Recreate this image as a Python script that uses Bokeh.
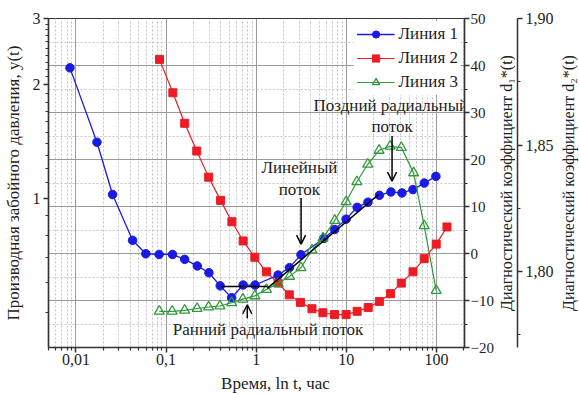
import math
from bokeh.plotting import figure
from bokeh.layouts import row, column
from bokeh.models import (Range1d, LinearScale, LinearAxis, FixedTicker, Grid, Legend,
                          LegendItem, Label, Arrow, OpenHead)
from bokeh.embed import file_html
from bokeh.resources import INLINE

FONT = "Liberation Serif"

# ---------------- data ----------------
# Line 1: derivative of bottom-hole pressure y(t) (left log axis)
line1_t = [0.00858, 0.0171, 0.0255, 0.0425, 0.0596, 0.0837, 0.118, 0.161, 0.222, 0.299,
           0.399, 0.534, 0.716, 0.972, 1.75, 2.34, 3.14, 5.62, 7.44, 9.95,
           13.2, 17.4, 23.3, 31.3, 41.5, 54.9, 73.3, 98.7]
line1_y = [2.22, 1.41, 1.025, 0.775, 0.714, 0.711, 0.711, 0.690, 0.663, 0.636,
           0.587, 0.546, 0.590, 0.590, 0.627, 0.656, 0.710, 0.784, 0.828, 0.882,
           0.948, 0.978, 1.020, 1.041, 1.035, 1.056, 1.099, 1.145]

# Line 2: diagnostic coefficient d1*(t) (first right axis)
line2_t = [0.0846, 0.119, 0.161, 0.219, 0.297, 0.403, 0.538, 0.717, 0.966, 1.30,
           1.75, 2.33, 3.10, 4.16, 5.50, 7.40, 9.95, 13.2, 17.5, 23.3,
           30.9, 40.8, 55.0, 73.2, 99.5, 131.0]
line2_y = [41.3, 34.2, 27.7, 21.8, 16.25, 11.3, 6.76, 2.67, -0.8, -3.9,
           -6.3, -8.8, -10.4, -11.75, -12.6, -13.0, -13.0, -12.3, -11.5, -10.2,
           -8.55, -6.3, -3.9, -1.1, 2.0, 5.65]

# Line 3: diagnostic coefficient d2*(t) (second right axis)
line3_t = [0.0841, 0.117, 0.161, 0.221, 0.297, 0.396, 0.534, 0.712, 0.967, 1.30,
           1.75, 2.34, 3.14, 4.16, 5.51, 7.44, 9.95, 13.1, 17.3, 23.1,
           30.6, 40.8, 55.8, 73.2, 99.5]
line3_y = [1.7843, 1.7843, 1.7847, 1.7854, 1.7860, 1.7864, 1.7877, 1.7891, 1.7904, 1.7929,
           1.7953, 1.7981, 1.8015, 1.8085, 1.8132, 1.8202, 1.8276, 1.8355, 1.8424, 1.8479,
           1.8495, 1.8490, 1.8390, 1.8181, 1.7925]

# straight-line fits (flow regimes) on the y(t) axis
early_fit_t = [0.403, 1.337]
early_fit_y = [0.585, 0.585]
linear_fit_t = [1.327, 22.85]
linear_fit_y = [0.578, 1.025]

# ticks
x_ticks = [0.01, 0.1, 1, 10, 100]
x_tick_labels = ["0,01", "0,1", "1", "10", "100"]
y_ticks = [1, 2, 3]
y_tick_labels = ["1", "2", "3"]
d1_ticks = [-20, -10, 0, 10, 20, 30, 40, 50]
d1_minor = [-15, -5, 5, 15, 25, 35, 45]
d2_ticks = [1.80, 1.85, 1.90]
d2_tick_labels = ["1,80", "1,85", "1,90"]
d2_minor = [1.775, 1.825, 1.875]

# annotations (data coordinates: x on time axis, y on d1 axis)
notes = [
    ("Линейный", 3.02, 18.2),
    ("поток", 3.02, 13.7),
    ("Поздний радиальный", 31.2, 31.4),
    ("поток", 32.2, 27.1),
    ("Ранний радиальный поток", 1.355, -16.2),
]
arrows = [
    (3.15, 11.8, 3.15, 2.0),
    (32.2, 25.0, 32.2, 15.4),
    (0.797, -13.75, 0.797, -10.9),
]
title_x = "Время, ln t, час"
title_y = "Производная забойного давления, y(t)"
title_d1 = "Диагностический коэффициент d₁*(t)"
title_d2 = "Диагностический коэффициент d₂*(t)"

H = 372          # height of the row with the plot frame
TOP = 18
BOTTOM = 25
W_TOTAL = 579
XT_H = 21        # strip holding the time-axis title
XT_POS = 275     # horizontal centre of the time-axis title within the strip
AX_COLOR = "#333333"
TXT = "#222222"

def style_axis(ax):
    ax.axis_line_color = AX_COLOR
    ax.axis_line_width = 1.5
    ax.major_tick_line_color = AX_COLOR
    ax.major_tick_line_width = 1.5
    ax.minor_tick_line_color = AX_COLOR
    ax.minor_tick_line_width = 1.2
    ax.major_tick_out = 5
    ax.major_tick_in = 0
    ax.minor_tick_out = 3
    ax.minor_tick_in = 0
    ax.major_label_text_font = FONT
    ax.major_label_text_font_size = "16px"
    ax.major_label_text_color = TXT
    ax.major_label_standoff = 3
    ax.axis_label_text_font = FONT
    ax.axis_label_text_font_size = "17px"
    ax.axis_label_text_font_style = "normal"
    ax.axis_label_text_color = TXT
    ax.axis_label_standoff = 2

# ---------------- main figure ----------------
p = figure(width=496, height=H, x_axis_type="log", y_axis_type="log",
           x_range=Range1d(0.00496, 205), y_range=Range1d(0.403, 3.0),
           output_backend="svg", toolbar_location=None,
           min_border_left=48, min_border_top=TOP, min_border_right=31, min_border_bottom=BOTTOM)
p.extra_y_ranges = {"d1": Range1d(-20, 50), "d2": Range1d(1.77, 1.90)}
p.extra_y_scales = {"d1": LinearScale(), "d2": LinearScale()}
p.background_fill_color = "white"
p.border_fill_color = "white"
p.outline_line_color = AX_COLOR
p.outline_line_width = 1.2

xa = p.xaxis[0]
x_minor = [k * 10.0 ** e for e in range(-3, 3) for k in range(2, 10)]
xa.ticker = FixedTicker(ticks=x_ticks, minor_ticks=x_minor)
xa.major_label_overrides = dict(zip(x_ticks, x_tick_labels))
style_axis(xa)
xa.major_label_standoff = 1

ya = p.yaxis[0]
y_minor = [0.4, 0.5, 0.6, 0.7, 0.8, 0.9, 1.1, 1.2, 1.3, 1.4, 1.5, 1.6, 1.7, 1.8, 1.9,
           2.1, 2.2, 2.3, 2.4, 2.5, 2.6, 2.7, 2.8, 2.9]
ya.ticker = FixedTicker(ticks=y_ticks, minor_ticks=y_minor)
ya.major_label_overrides = dict(zip(y_ticks, y_tick_labels))
ya.axis_label = title_y
style_axis(ya)
ya.axis_label_standoff = 7

ax1 = LinearAxis(y_range_name="d1", ticker=FixedTicker(ticks=d1_ticks, minor_ticks=d1_minor))
style_axis(ax1)
ax1.major_label_text_font_size = "15px"
ax1.major_label_standoff = 1
p.add_layout(ax1, "right")

# grids
p.xgrid.grid_line_color = "#9a9a9a"
p.xgrid.grid_line_width = 1
p.xgrid.minor_grid_line_color = "#c4c4c4"
p.xgrid.minor_grid_line_dash = "2 2"
p.ygrid.visible = False
hgrid = Grid(dimension=1, y_range_name="d1",
             ticker=FixedTicker(ticks=d1_ticks, minor_ticks=d1_minor),
             grid_line_color="#9a9a9a", grid_line_width=1,
             minor_grid_line_color="#c4c4c4", minor_grid_line_dash="2 2")
p.add_layout(hgrid)

BLUE = "#1a1ae6"
RED = "#ec1c24"
GREEN = "#2e9a3a"

r2l = p.line(line2_t, line2_y, y_range_name="d1", line_color=RED, line_width=1.2)
r2m = p.scatter(line2_t, line2_y, y_range_name="d1", marker="square", size=8,
                fill_color=RED, line_color=RED)
r1l = p.line(line1_t, line1_y, line_color=BLUE, line_width=1.3)
r1m = p.scatter(line1_t, line1_y, marker="circle", size=8.5, fill_color=BLUE, line_color=BLUE)
r3l = p.line(line3_t, line3_y, y_range_name="d2", line_color=GREEN, line_width=1.2)
r3m = p.scatter(line3_t, line3_y, y_range_name="d2", marker="triangle", size=10,
                fill_color="white", fill_alpha=0.0, line_color=GREEN, line_width=1.3)

p.line(early_fit_t, early_fit_y, line_color="black", line_width=1.5)
p.line(linear_fit_t, linear_fit_y, line_color="black", line_width=1.5)

for txt, xx, yy in notes:
    p.add_layout(Label(x=xx, y=yy, y_range_name="d1", text=txt, text_align="center",
                       text_baseline="middle", text_font=FONT, text_font_size="17px",
                       text_color=TXT))
for x0, y0, x1, y1 in arrows:
    p.add_layout(Arrow(x_start=x0, y_start=y0, x_end=x1, y_end=y1, y_range_name="d1",
                       line_color="black", line_width=1.5,
                       end=OpenHead(size=9, line_color="black", line_width=1.5)))

legend = Legend(items=[
    LegendItem(label="Линия 1", renderers=[r1l, r1m]),
    LegendItem(label="Линия 2", renderers=[r2l, r2m]),
    LegendItem(label="Линия 3", renderers=[r3l, r3m]),
], location="top_right")
legend.label_text_font = FONT
legend.label_text_font_size = "17px"
legend.label_text_color = TXT
legend.glyph_width = 38
legend.glyph_height = 18
legend.spacing = 4
legend.padding = 3
legend.margin = 3
legend.label_standoff = 4
legend.border_line_alpha = 0
legend.background_fill_color = "white"
legend.background_fill_alpha = 1.0
p.add_layout(legend)

# ---------------- side strips: axis titles and second right axis ----------------
def strip(width, height=H, y_range=None, left=0, right=0, top=TOP, bottom=BOTTOM, x_range=None):
    f = figure(width=width, height=height,
               x_range=x_range if x_range is not None else Range1d(0, 1),
               y_range=y_range if y_range is not None else Range1d(0, 1),
               x_axis_location=None, y_axis_location=None,
               output_backend="svg", toolbar_location=None,
               min_border_left=left, min_border_right=right,
               min_border_top=top, min_border_bottom=bottom)
    f.outline_line_color = None
    f.background_fill_color = "white"
    f.border_fill_color = "white"
    f.grid.visible = False
    return f

def title_strip(width, text):
    f = strip(width)
    f.add_layout(Label(x=0.5, y=0.5, text=text, angle=math.pi / 2, text_align="center",
                       text_baseline="middle", text_font=FONT, text_font_size="16px",
                       text_color=TXT))
    return f

t1 = title_strip(19, title_d1)

c = strip(41, y_range=Range1d(1.77, 1.90), left=0, right=37)
ax2 = LinearAxis(ticker=FixedTicker(ticks=d2_ticks, minor_ticks=d2_minor))
ax2.major_label_overrides = dict(zip(d2_ticks, d2_tick_labels))
style_axis(ax2)
c.add_layout(ax2, "right")

t2 = title_strip(23, title_d2)

# strip under the plot for the time-axis title
xt = strip(W_TOTAL, height=XT_H, top=0, bottom=0, x_range=Range1d(0, W_TOTAL))
xt.add_layout(Label(x=XT_POS, y=0.5, text=title_x, text_align="center",
                    text_baseline="middle", text_font=FONT, text_font_size="17px",
                    text_color=TXT))

layout = column(row(p, t1, c, t2, spacing=0), xt, spacing=0)

open("out.html", "w").write(file_html(layout, INLINE))
